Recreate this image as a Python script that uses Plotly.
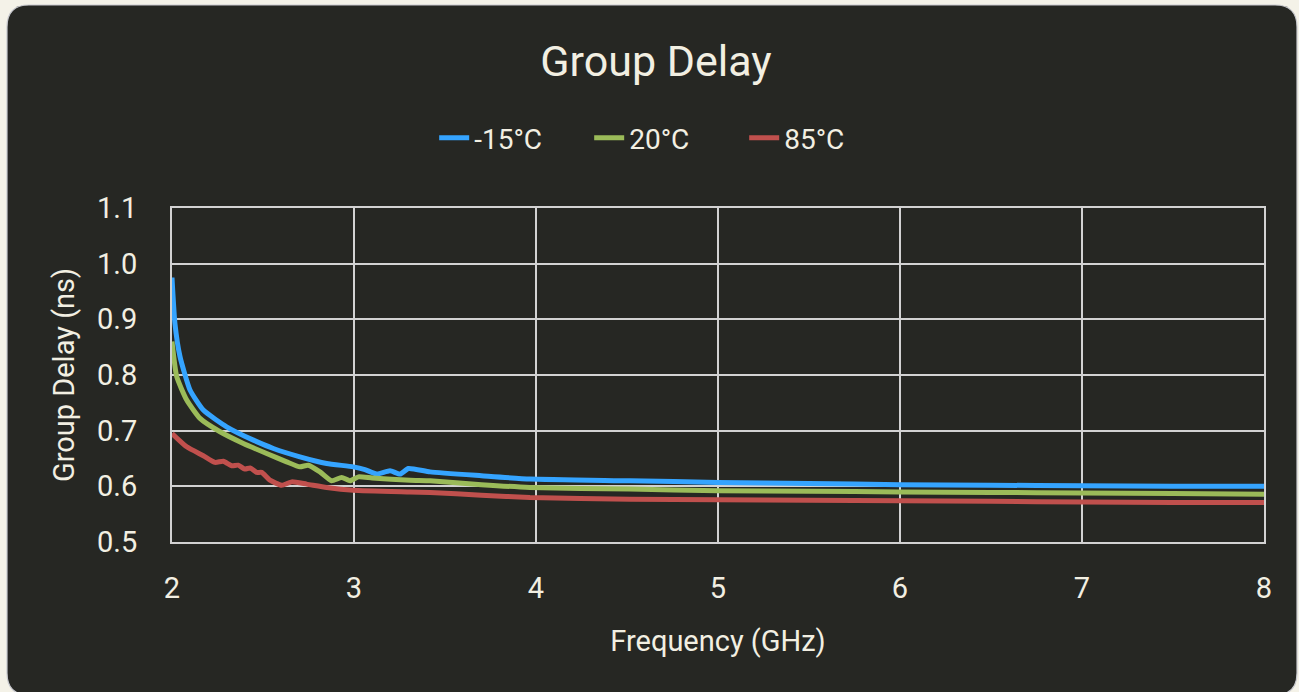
import plotly.graph_objects as go

# ---- data ----
x_blue = [2.0, 2.016, 2.044, 2.099, 2.172, 2.30, 2.447, 2.557, 2.703, 2.85, 2.996, 3.06, 3.125, 3.198,
          3.253, 3.299, 3.418, 3.70, 3.967, 4.516, 5.0, 5.5, 6.0, 6.5, 7.0, 7.5, 8.0]
y_blue = [0.975, 0.893, 0.833, 0.773, 0.737, 0.707, 0.683, 0.668, 0.653, 0.641, 0.635, 0.630, 0.622, 0.628,
          0.622, 0.632, 0.626, 0.619, 0.613, 0.610, 0.607, 0.605, 0.603, 0.602, 0.601, 0.600, 0.600]

x_green = [2.0, 2.026, 2.081, 2.154, 2.264, 2.392, 2.52, 2.63, 2.703, 2.749, 2.813, 2.877, 2.932, 2.978,
           3.024, 3.10, 3.308, 3.418, 3.70, 3.967, 4.516, 5.0, 5.5, 6.0, 6.5, 7.0, 7.5, 8.0]
y_green = [0.860, 0.797, 0.755, 0.722, 0.698, 0.677, 0.659, 0.644, 0.635, 0.638, 0.626, 0.610, 0.616, 0.610,
           0.617, 0.615, 0.611, 0.610, 0.603, 0.598, 0.595, 0.592, 0.591, 0.590, 0.589, 0.588, 0.587, 0.586]

x_red = [2.0, 2.081, 2.172, 2.236, 2.282, 2.328, 2.364, 2.40, 2.429, 2.465, 2.493, 2.538, 2.603, 2.658,
         2.74, 2.85, 2.996, 3.308, 3.418, 3.70, 3.967, 4.516, 5.0, 5.5, 6.0, 6.5, 7.0, 7.5, 8.0]
y_red = [0.695, 0.671, 0.655, 0.643, 0.645, 0.637, 0.638, 0.631, 0.633, 0.625, 0.625, 0.611, 0.602, 0.608,
         0.604, 0.598, 0.593, 0.590, 0.589, 0.584, 0.580, 0.577, 0.576, 0.575, 0.574, 0.573, 0.572, 0.571, 0.571]

series_names = ["-15°C", "20°C", "85°C"]
series_colors = ["#35A4FF", "#9BBB59", "#C0504D"]

x_ticks = [2, 3, 4, 5, 6, 7, 8]
y_ticks = [0.5, 0.6, 0.7, 0.8, 0.9, 1.0, 1.1]

# ---- layout geometry ----
W, H = 1299, 692
L, R, T, B = 172, 35, 208, 150
PW, PH = W - L - R, H - T - B

FONT = "Roboto"
TXT = "#F2EFE2"
GRID = "#D2D2D2"
PAGE = "#F4F2E8"


def px_to_paper(px, py):
    return (px - L) / PW, (H - B - py) / PH


def rounded_rect_path(x0, y0, x1, y1, r):
    def p(a, b):
        xp, yp = px_to_paper(a, b)
        return f"{xp:.5f},{yp:.5f}"
    return (f"M {p(x0 + r, y0)} L {p(x1 - r, y0)} Q {p(x1, y0)} {p(x1, y0 + r)} "
            f"L {p(x1, y1 - r)} Q {p(x1, y1)} {p(x1 - r, y1)} "
            f"L {p(x0 + r, y1)} Q {p(x0, y1)} {p(x0, y1 - r)} "
            f"L {p(x0, y0 + r)} Q {p(x0, y0)} {p(x0 + r, y0)} Z")


fig = go.Figure()
for xs, ys, name, col in zip([x_blue, x_green, x_red], [y_blue, y_green, y_red], series_names, series_colors):
    fig.add_trace(go.Scatter(x=xs, y=ys, name=name, mode="lines",
                             line=dict(color=col, width=5, shape="spline", smoothing=0.5)))

fig.add_shape(type="path", xref="paper", yref="paper", layer="below",
              path=rounded_rect_path(7, 5, 1297, 695, 22),
              fillcolor="#262723", line=dict(color="#C9CACF", width=1.2))

fig.update_layout(
    width=W, height=H,
    margin=dict(l=L, r=R, t=T, b=B),
    paper_bgcolor=PAGE,
    plot_bgcolor="rgba(0,0,0,0)",
    font=dict(family=FONT, color=TXT, size=28),
    title=dict(text="Group Delay", x=0.505, xanchor="center", y=1 - 61 / H, yanchor="middle",
               font=dict(size=43, color=TXT, family=FONT)),
    legend=dict(orientation="h", x=0.453, xanchor="center", y=1 - 138 / H, yref="container",
                yanchor="middle", font=dict(size=28, color=TXT), bgcolor="rgba(0,0,0,0)",
                entrywidth=110),
    showlegend=True,
)

fig.update_xaxes(range=[2, 8], tickvals=x_ticks, ticktext=[str(v) for v in x_ticks],
                 showgrid=True, gridcolor=GRID, gridwidth=2,
                 showline=True, linecolor=GRID, linewidth=2, mirror=True,
                 zeroline=False, ticks="outside", ticklen=0, ticklabelstandoff=19,
                 tickfont=dict(size=29, color=TXT),
                 title=dict(text="Frequency (GHz)", font=dict(size=29, color=TXT), standoff=27))
fig.update_yaxes(range=[0.5, 1.1], tickvals=y_ticks, ticktext=[f"{v:.1f}" for v in y_ticks],
                 showgrid=True, gridcolor=GRID, gridwidth=2,
                 showline=True, linecolor=GRID, linewidth=2, mirror=True,
                 zeroline=False, ticks="outside", ticklen=0, ticklabelstandoff=27,
                 tickfont=dict(size=29, color=TXT),
                 title=dict(text="Group Delay (ns)", font=dict(size=29, color=TXT), standoff=14))

fig.write_html("out.html", config={"displayModeBar": False},
               post_script="document.body.style.margin='0';document.body.style.background='%s';"
                           "document.documentElement.style.background='%s';" % (PAGE, PAGE))
